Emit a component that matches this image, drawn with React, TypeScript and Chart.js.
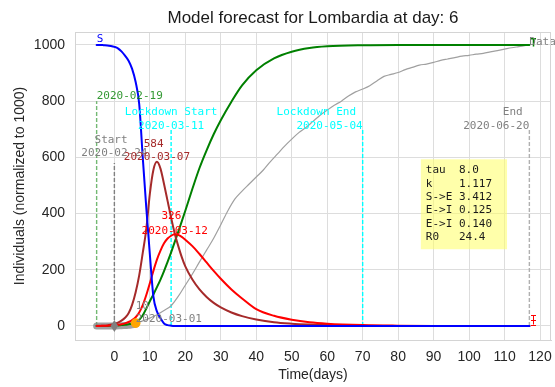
import React, { useEffect, useRef } from 'react';
import { Chart, registerables } from 'chart.js';

Chart.register(...registerables);

// ---------- data ----------
const modelDays = [-5, -4, -3, -2, -1, 0, 1, 2, 3, 4, 5, 6, 7, 8, 9, 10, 11, 12, 13, 14, 15, 16, 17, 18, 19, 20, 22, 24, 26, 28, 30, 33, 36, 40, 45, 50, 55, 60, 70, 80, 90, 100, 117];
const susceptible = [1000, 1000, 999, 998, 996, 993, 988, 977, 962, 944, 915, 868, 790, 600, 420, 255, 105, 52, 27, 9, 3, 1, 0, 0, 0, 0, 0, 0, 0, 0, 0, 0, 0, 0, 0, 0, 0, 0, 0, 0, 0, 0, 0];
const exposed = [0, 1, 1, 2, 4, 7, 12, 19, 29, 45, 75, 120, 180, 260, 345, 470, 555, 584, 560, 505, 445, 385, 330, 285, 245, 212, 165, 130, 103, 82, 66, 48, 35, 23, 13, 8, 5, 3, 1, 0, 0, 0, 0];
const infected = [0, 0, 1, 1, 2, 2, 4, 6, 9, 14, 21, 31, 48, 74, 110, 152, 196, 236, 268, 294, 311, 321, 326, 324, 317, 307, 284, 256, 226, 196, 168, 130, 98, 60, 36, 22, 13, 8, 3, 1, 0, 0, 0];
const recovered = [0, 0, 0, 0, 1, 1, 2, 3, 4, 6, 8, 12, 22, 38, 62, 88, 112, 138, 165, 195, 228, 262, 298, 335, 372, 410, 488, 562, 625, 682, 732, 798, 856, 910, 952, 976, 989, 995, 999, 1000, 1000, 1000, 1000];

const pastDays = [-5, -2, 0, 2, 4, 5, 6];
const pastValues = [0, 0, 0, 1, 2, 4, 6];

const dataDays = [6, 8, 10, 12, 14, 16, 18, 20, 22, 24, 26, 28, 30, 32, 34, 36, 38, 40, 42, 44, 46, 48, 50, 52, 54, 56, 58, 60, 62, 64, 66, 68, 70, 72, 74, 76, 78, 80, 82, 84, 86, 88, 90, 92, 94, 96, 98, 100, 102, 104, 106, 108, 110, 112, 114, 116, 117];
const dataValues = [10, 18, 28, 40, 55, 72, 105, 145, 185, 228, 270, 312, 360, 410, 452, 480, 505, 530, 555, 585, 612, 640, 665, 688, 706, 728, 750, 768, 785, 800, 818, 833, 843, 855, 872, 888, 895, 902, 912, 920, 928, 932, 938, 945, 950, 955, 960, 963, 967, 970, 975, 980, 985, 990, 994, 998, 1000];

const xTicks = [0, 10, 20, 30, 40, 50, 60, 70, 80, 90, 100, 110, 120];
const yTicks = [0, 200, 400, 600, 800, 1000];

const eventDays = [-5, 0, 16, 70, 117];
const eventTops = [800, 580, 700, 700, 700];

const paramLines = ['tau  8.0', 'k    1.117', 'S->E 3.412', 'E->I 0.125', 'E->I 0.140', 'R0   24.4'];

const currentDay = 6;
const currentValue = 10;

// ---------- styles ----------
const MONO = '"DejaVu Sans Mono", monospace';
const SANS = '"Liberation Sans", Arial, sans-serif';
const eventColors = ['rgba(0,128,0,0.55)', '#808080', '#00ffff', '#00ffff', '#b0b0b0'];

const labels = [
  { text: 'S', x: -5, y: 1020, color: '#0000ff', align: 'left' },
  { text: 'Data', x: 117, y: 1011, color: '#808080', align: 'left' },
  { text: '2020-02-19', x: -5, y: 816, color: 'rgba(0,128,0,0.8)', align: 'left' },
  { text: 'Start ', x: 0, y: 661, color: '#808080', align: 'center' },
  { text: '2020-02-24', x: 0, y: 614, color: '#808080', align: 'center' },
  { text: 'Lockdown Start', x: 16, y: 762, color: '#00ffff', align: 'center' },
  { text: '2020-03-11', x: 16, y: 711, color: '#00ffff', align: 'center' },
  { text: 'Lockdown End ', x: 70, y: 762, color: '#00ffff', align: 'right' },
  { text: '2020-05-04', x: 70, y: 711, color: '#00ffff', align: 'right' },
  { text: 'End ', x: 117, y: 762, color: '#808080', align: 'right' },
  { text: '2020-06-20', x: 117, y: 711, color: '#808080', align: 'right' },
  { text: '584 ', x: 12, y: 646, color: '#a52a2a', align: 'center' },
  { text: '2020-03-07', x: 12, y: 599, color: '#a52a2a', align: 'center' },
  { text: '326 ', x: 17, y: 389, color: '#ff0000', align: 'center' },
  { text: '2020-03-12', x: 17, y: 339, color: '#ff0000', align: 'center' },
  { text: '10', x: 6, y: 70, color: '#808080', align: 'left' },
  { text: '2020-03-01', x: 6, y: 23, color: '#808080', align: 'left' },
];

const pts = (xs: number[], ys: number[]) => xs.map((x, i) => ({ x, y: ys[i] }));

const overlay = {
  id: 'overlay',
  beforeDatasetsDraw(chart: any) {
    const ctx = chart.ctx;
    const sx = chart.scales.x;
    const sy = chart.scales.y;
    ctx.save();
    ctx.lineWidth = 1.4;
    ctx.setLineDash([4, 2]);
    eventDays.forEach((d, i) => {
      ctx.strokeStyle = eventColors[i];
      const x = sx.getPixelForValue(d);
      ctx.beginPath();
      ctx.moveTo(x, sy.getPixelForValue(0));
      ctx.lineTo(x, sy.getPixelForValue(eventTops[i]));
      ctx.stroke();
    });
    ctx.restore();
  },
  afterDatasetsDraw(chart: any) {
    const ctx = chart.ctx;
    const sx = chart.scales.x;
    const sy = chart.scales.y;
    const px = (v: number) => sx.getPixelForValue(v);
    const py = (v: number) => sy.getPixelForValue(v);
    ctx.save();
    // diamond at start
    const dx = px(0), dy = py(0);
    ctx.fillStyle = '#808080';
    ctx.beginPath();
    ctx.moveTo(dx, dy - 6);
    ctx.lineTo(dx + 3.8, dy);
    ctx.lineTo(dx, dy + 6);
    ctx.lineTo(dx - 3.8, dy);
    ctx.closePath();
    ctx.fill();
    // current day dot
    ctx.fillStyle = '#ffa500';
    ctx.beginPath();
    ctx.arc(px(currentDay), py(currentValue), 4.8, 0, Math.PI * 2);
    ctx.fill();
    // error bars at end
    const ex = Math.round(px(118)) + 0.5;
    ctx.strokeStyle = '#ff0000';
    ctx.lineWidth = 1;
    ctx.beginPath();
    ctx.moveTo(ex, py(5));
    ctx.lineTo(ex, py(38));
    [5, 38, 21].forEach((v) => {
      ctx.moveTo(ex - 2.5, Math.round(py(v)) + 0.5);
      ctx.lineTo(ex + 2.5, Math.round(py(v)) + 0.5);
    });
    ctx.stroke();
    ctx.strokeStyle = '#008000';
    ctx.lineWidth = 1.5;
    ctx.beginPath();
    ctx.moveTo(ex, py(994));
    ctx.lineTo(ex, py(1022));
    ctx.moveTo(ex - 2.5, py(1022));
    ctx.lineTo(ex + 2.5, py(1022));
    ctx.stroke();
    // text labels
    ctx.font = '11px ' + MONO;
    ctx.textBaseline = 'middle';
    labels.forEach((l) => {
      ctx.fillStyle = l.color;
      ctx.textAlign = l.align as CanvasTextAlign;
      ctx.fillText(l.text, px(l.x), py(l.y));
    });
    // parameter box
    const bx0 = px(86.4), bx1 = px(110.7), by0 = py(593), by1 = py(273);
    ctx.fillStyle = 'rgba(255,255,100,0.55)';
    ctx.fillRect(bx0, by0, bx1 - bx0, by1 - by0);
    ctx.fillStyle = '#1a1a1a';
    ctx.textAlign = 'left';
    paramLines.forEach((t, i) => {
      ctx.fillText(t, px(87.8), py(554) + i * 13.4);
    });
    ctx.restore();
  },
  afterDraw(chart: any) {
    const ctx = chart.ctx;
    const a = chart.chartArea;
    ctx.save();
    ctx.strokeStyle = '#d4d4d4';
    ctx.lineWidth = 1;
    ctx.strokeRect(Math.round(a.left) + 0.5, Math.round(a.top) + 0.5, Math.round(a.right - a.left) - 1, Math.round(a.bottom - a.top));
    ctx.fillStyle = '#1a1a1a';
    ctx.textAlign = 'center';
    ctx.textBaseline = 'alphabetic';
    ctx.font = '17px ' + SANS;
    ctx.fillText('Model forecast for Lombardia at day: ' + currentDay, (a.left + a.right) / 2, 22.7);
    ctx.fillStyle = '#262626';
    ctx.font = '14px ' + SANS;
    ctx.fillText('Time(days)', (a.left + a.right) / 2, 379);
    ctx.translate(24, (a.top + a.bottom) / 2);
    ctx.rotate(-Math.PI / 2);
    ctx.fillText('Individuals (normalized to 1000)', 0, 0);
    ctx.restore();
  },
};

export default function App() {
  const ref = useRef<HTMLCanvasElement>(null);
  useEffect(() => {
    const canvas = ref.current as HTMLCanvasElement;
    const line = (label: string, d: any[], color: string, width: number, order: number) => ({
      label,
      data: d,
      borderColor: color,
      backgroundColor: color,
      borderWidth: width,
      pointRadius: 0,
      fill: false,
      cubicInterpolationMode: 'monotone',
      borderCapStyle: 'round',
      borderJoinStyle: 'round',
      order,
    });
    const zeroPad = (s: any) => {
      s.paddingLeft = 0;
      s.paddingRight = 0;
      s.paddingTop = 0;
      s.paddingBottom = 0;
    };
    const chart = new Chart(canvas, {
      type: 'line',
      data: {
        datasets: [
          line('past', pts(pastDays, pastValues), 'rgba(128,128,128,0.75)', 7, 9),
          line('Data', pts(dataDays, dataValues), '#a0a0a0', 1.2, 5),
          line('R', pts(modelDays, recovered), '#008000', 2, 4),
          line('E', pts(modelDays, exposed), '#a52a2a', 2, 3),
          line('I', pts(modelDays, infected), '#ff0000', 2, 2),
          line('S', pts(modelDays, susceptible), '#0000ff', 2, 1),
        ] as any,
      },
      options: {
        responsive: false,
        animation: false,
        devicePixelRatio: 1,
        parsing: false as any,
        layout: { padding: { top: 32, right: 4, left: 0, bottom: 0 } },
        plugins: { legend: { display: false }, tooltip: { enabled: false }, title: { display: false } },
        scales: {
          x: {
            type: 'linear',
            min: -11.1,
            max: 123.1,
            afterBuildTicks: (s: any) => { s.ticks = xTicks.map((v) => ({ value: v })); },
            afterFit: (s: any) => { s.height = 47; zeroPad(s); },
            grid: { color: '#dddddd', lineWidth: 1, drawTicks: false },
            border: { color: '#d4d4d4' },
            ticks: { padding: 9, color: '#262626', font: { family: SANS, size: 14 }, maxRotation: 0, autoSkip: false, callback: (v: any) => String(v) },
          },
          y: {
            type: 'linear',
            min: -50,
            max: 1046,
            afterBuildTicks: (s: any) => { s.ticks = yTicks.map((v) => ({ value: v })); },
            afterFit: (s: any) => { s.width = 75; zeroPad(s); },
            grid: { color: '#dddddd', lineWidth: 1, drawTicks: false },
            border: { color: '#d4d4d4' },
            ticks: { padding: 10, color: '#262626', font: { family: SANS, size: 14 }, autoSkip: false, callback: (v: any) => String(v) },
          },
        },
      } as any,
      plugins: [overlay],
    });
    return () => chart.destroy();
  }, []);
  return (
    <div style={{ position: 'fixed', left: 0, top: 0, width: 555, height: 387, background: '#ffffff' }}>
      <canvas ref={ref} width={555} height={387} style={{ display: 'block', width: 555, height: 387 }} />
    </div>
  );
}
